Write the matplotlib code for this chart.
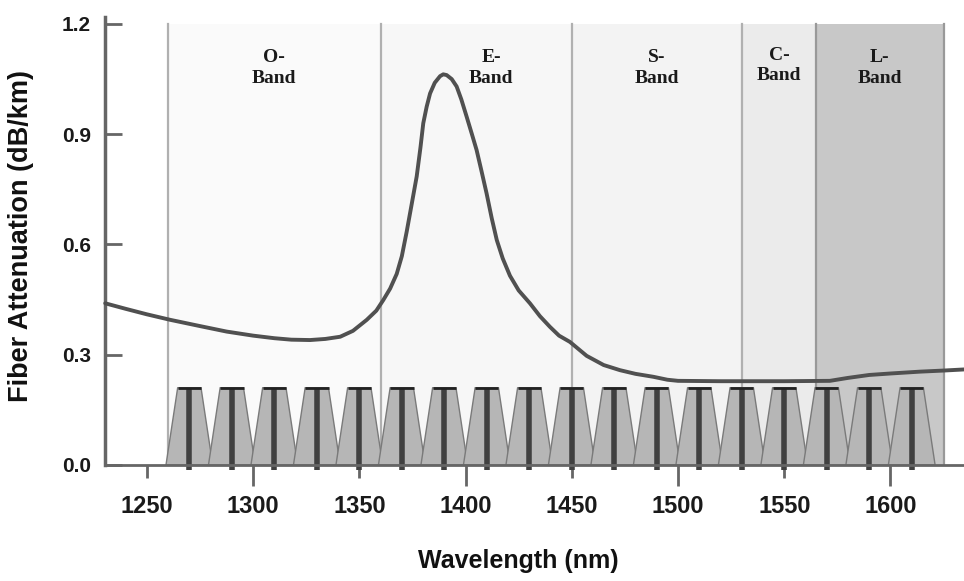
import matplotlib
matplotlib.use('Agg')
import matplotlib.pyplot as plt

# ---------------- data ----------------
band_names = ['O-\nBand', 'E-\nBand', 'S-\nBand', 'C-\nBand', 'L-\nBand']
band_edges = [1260, 1360, 1450, 1530, 1565, 1625]
band_colors = ['#fafafa', '#f7f7f7', '#f3f3f3', '#ebebeb', '#c8c8c8']

wavelength = [1230.4, 1240, 1250, 1261, 1275, 1287.6, 1300, 1310, 1318, 1326.8,
              1334, 1341, 1347, 1353.5, 1358, 1361.3, 1364.5, 1367.6, 1370, 1372.3,
              1374.5, 1377, 1378.8, 1380.1, 1381.7, 1383.3, 1385.5, 1388, 1389.5, 1391.1,
              1393.5, 1395.8, 1398, 1400.5, 1403, 1405.2, 1407.5, 1409.9, 1412.3, 1414.7,
              1417.5, 1420.9, 1425, 1430.3, 1435, 1439.7, 1444, 1449.1, 1457, 1465,
              1472.7, 1480, 1488.4, 1495, 1500, 1520, 1550, 1571.5, 1580, 1590,
              1600, 1613.8, 1625, 1634.6]
attenuation = [0.440, 0.425, 0.410, 0.395, 0.378, 0.363, 0.352, 0.345, 0.341, 0.340,
               0.343, 0.349, 0.365, 0.395, 0.420, 0.449, 0.480, 0.520, 0.568, 0.635,
               0.705, 0.785, 0.865, 0.930, 0.975, 1.011, 1.040, 1.058, 1.063, 1.061,
               1.050, 1.030, 0.995, 0.948, 0.900, 0.857, 0.800, 0.739, 0.672, 0.612,
               0.562, 0.515, 0.475, 0.440, 0.405, 0.376, 0.352, 0.335, 0.297, 0.272,
               0.258, 0.248, 0.240, 0.232, 0.229, 0.228, 0.228, 0.229, 0.237, 0.245,
               0.249, 0.254, 0.257, 0.260]

channel_centers = [1270, 1290, 1310, 1330, 1350, 1370, 1390, 1410, 1430,
                   1450, 1470, 1490, 1510, 1530, 1550, 1570, 1590, 1610]
channel_height = 0.21

yticks = [0.0, 0.3, 0.6, 0.9, 1.2]
ytick_labels = ['0.0', '0.3', '0.6', '0.9', '1.2']
xticks_major = [1300, 1400, 1500, 1600]
xticks_major_labels = ['1300', '1400', '1500', '1600']
xticks_minor = [1250, 1350, 1450, 1550]
xticks_minor_labels = ['1250', '1350', '1450', '1550']

# ---------------- figure ----------------
W, H = 964, 581
fig = plt.figure(figsize=(W / 100, H / 100), dpi=100)
ax = fig.add_axes([105 / W, 116 / H, 859 / W, 448 / H])
ax.set_xlim(1230.3, 1634.6)
ax.set_ylim(0, 1.219)

sans = ['Liberation Sans', 'DejaVu Sans']
serif = ['Liberation Serif', 'DejaVu Serif']

# bands
for i, name in enumerate(band_names):
    x0, x1 = band_edges[i], band_edges[i + 1]
    ax.axvspan(x0, x1, ymin=0, ymax=1.2 / 1.219, color=band_colors[i], lw=0, zorder=0)
    cx = (x0 + x1) / 2
    if name.startswith('E'):
        cx += 7
    cy = 1.088 if name.startswith('C') else 1.080
    ax.text(cx, cy, name, ha='center', va='center', fontsize=14, fontweight='bold',
            family=serif, color='#1a1a1a', linespacing=1.25, zorder=5)

for j, e in enumerate(band_edges):
    col = '#999999' if j >= 4 else '#b0b0b0'
    ax.plot([e, e], [0, 1.2], color=col, lw=1.6, zorder=1)

# channels (trapezoids)
top_hw, base_hw = 5.5, 11.0
for c in channel_centers:
    xs = [c - base_hw, c - top_hw, c + top_hw, c + base_hw]
    ys = [0, channel_height, channel_height, 0]
    ax.fill(xs, ys, facecolor='#b6b6b6', edgecolor='#7a7a7a', lw=1.0, zorder=2)
for c in channel_centers:
    ax.plot([c, c], [-0.013, channel_height], color='#404040', lw=4.0,
            solid_capstyle='butt', zorder=3, clip_on=False)
    ax.plot([c - top_hw, c + top_hw], [channel_height, channel_height],
            color='#222222', lw=2.0, solid_capstyle='butt', zorder=3)

# attenuation curve
ax.plot(wavelength, attenuation, color='#505050', lw=2.8, zorder=4,
        solid_joinstyle='round', solid_capstyle='round', clip_on=False)

# axes styling
for s in ['top', 'right']:
    ax.spines[s].set_visible(False)
ax.spines['left'].set_color('#666666')
ax.spines['left'].set_linewidth(2.5)
ax.spines['bottom'].set_color('#666666')
ax.spines['bottom'].set_linewidth(2.0)
ax.spines['bottom'].set_zorder(6)
ax.set_facecolor('white')

ax.set_yticks(yticks, labels=ytick_labels)
ax.tick_params(axis='y', direction='in', length=12, width=2, color='#666666',
               pad=10, labelsize=15, labelcolor='#1a1a1a')
ax.set_xticks(xticks_major, labels=xticks_major_labels)
ax.set_xticks(xticks_minor, labels=xticks_minor_labels, minor=True)
ax.tick_params(axis='x', which='major', direction='out', length=15, width=2,
               color='#666666', pad=6.5, labelsize=17, labelcolor='#1a1a1a')
ax.tick_params(axis='x', which='minor', direction='out', length=9.4, width=2,
               color='#666666', pad=12.1, labelsize=17, labelcolor='#1a1a1a')
for lab in ax.get_xticklabels(which='both') + ax.get_yticklabels():
    lab.set_fontweight('bold')
    lab.set_family(sans)

fig.text(21 / W, 1 - 236 / H, 'Fiber Attenuation (dB/km)', rotation=90,
         ha='center', va='center', fontsize=19.5, fontweight='bold', family=sans,
         color='#111111')
fig.text(518 / W, 1 - 561 / H, 'Wavelength (nm)', ha='center', va='center',
         fontsize=18, fontweight='bold', family=sans, color='#111111')

fig.savefig('out.png', dpi=100, facecolor='white')
